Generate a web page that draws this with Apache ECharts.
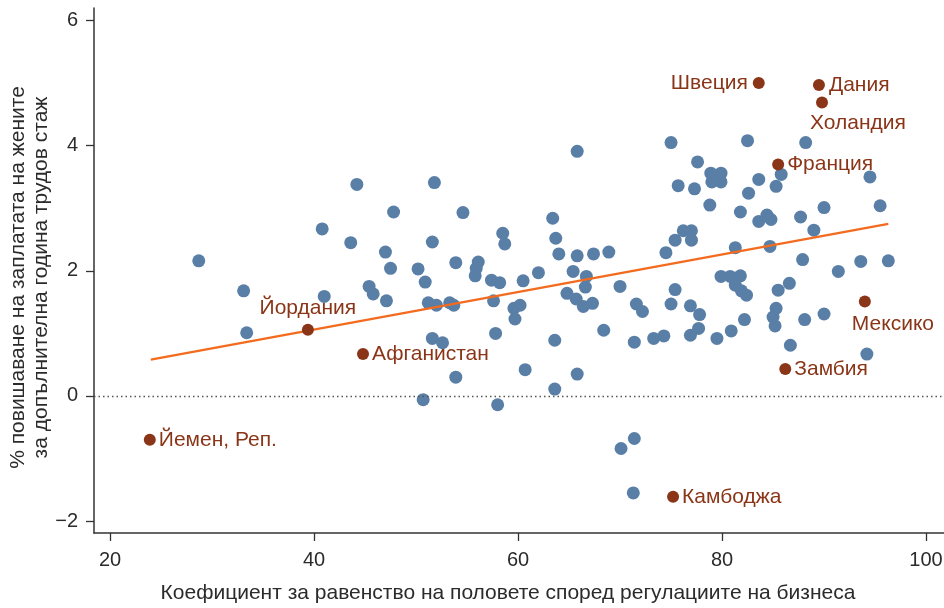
<!DOCTYPE html>
<html>
<head>
<meta charset="utf-8">
<script src="https://cdn.jsdelivr.net/npm/echarts@6/dist/echarts.min.js"></script>
<style>
  html, body { margin: 0; padding: 0; background: #fff; }
  #chart { width: 944px; height: 608px; }
</style>
</head>
<body>
<div id="chart"></div>
<script>
// икономики без надпис: [коефициент, % повишаване]
var otherPoints = [
  [28.7, 2.16], [33.1, 1.68], [33.4, 1.01], [40.8, 2.67], [41.0, 1.59],
  [44.2, 3.38], [43.6, 2.45], [47.0, 2.30], [47.8, 2.94], [47.5, 2.04],
  [45.4, 1.75], [45.8, 1.63], [47.1, 1.52], [51.8, 3.41], [54.6, 2.93],
  [51.6, 2.46], [58.5, 2.60], [58.7, 2.43], [50.2, 2.03], [53.9, 2.13],
  [56.1, 2.14], [55.9, 2.04], [55.8, 1.92], [57.4, 1.85], [58.2, 1.81],
  [50.9, 1.82], [51.2, 1.49], [52.0, 1.45], [53.3, 1.49], [53.7, 1.45],
  [57.6, 1.52], [59.6, 1.40], [60.2, 1.45], [59.7, 1.23], [57.8, 1.00],
  [51.6, 0.92], [52.6, 0.85], [63.6, 0.89], [68.4, 1.05], [53.9, 0.30],
  [60.7, 0.42], [65.8, 0.35], [63.6, 0.11], [50.7, -0.06], [58.0, -0.14],
  [64.8, 1.64], [65.7, 1.55], [66.4, 1.43], [67.3, 1.48], [60.5, 1.84],
  [62.0, 1.97], [63.7, 2.52], [64.0, 2.27], [65.8, 2.24], [67.4, 2.27],
  [68.9, 2.30], [65.4, 1.99], [66.7, 1.91], [66.6, 1.74], [70.0, 1.75],
  [71.6, 1.47], [72.2, 1.35], [71.4, 0.86], [73.3, 0.92], [74.3, 0.96],
  [74.5, 2.29], [75.4, 2.49], [75.4, 1.70], [75.0, 1.47], [71.4, -0.68],
  [70.1, -0.84], [71.3, -1.55], [63.4, 2.84], [65.8, 3.91], [75.0, 4.05],
  [82.5, 4.08], [88.2, 4.05], [77.6, 3.74], [78.9, 3.56], [79.9, 3.56],
  [79.0, 3.42], [79.9, 3.42], [75.7, 3.36], [77.3, 3.31], [78.8, 3.05],
  [83.6, 3.46], [85.8, 3.54], [85.3, 3.35], [94.5, 3.50], [82.6, 3.24],
  [81.8, 2.94], [90.0, 3.01], [95.5, 3.04], [84.4, 2.89], [83.6, 2.79],
  [84.8, 2.82], [87.7, 2.86], [89.0, 2.65], [81.3, 2.37], [84.7, 2.39],
  [87.9, 2.18], [91.4, 1.99], [93.6, 2.15], [96.3, 2.16], [79.9, 1.91],
  [80.8, 1.91], [81.8, 1.92], [81.3, 1.77], [81.9, 1.68], [82.4, 1.61],
  [85.5, 1.69], [86.6, 1.80], [76.2, 2.64], [77.0, 2.64], [77.0, 2.49],
  [76.9, 1.44], [77.8, 1.30], [77.7, 1.08], [76.9, 0.97], [79.5, 0.92],
  [80.9, 1.04], [82.2, 1.22], [85.3, 1.40], [85.0, 1.26], [85.2, 1.12],
  [88.1, 1.22], [90.0, 1.31], [86.7, 0.81], [94.2, 0.67]
];

// икономики с надпис
var labelledNames = ['Швеция', 'Дания', 'Холандия', 'Франция', 'Йордания',
  'Афганистан', 'Йемен, Реп.', 'Камбоджа', 'Замбия', 'Мексико'];
var labelledX = [83.6, 89.5, 89.8, 85.5, 39.4, 44.8, 23.9, 75.2, 86.2, 94.0];
var labelledY = [5.00, 4.97, 4.69, 3.70, 1.06, 0.67, -0.70, -1.61, 0.43, 1.51];

// линия на тренда
var trendX = [24.0, 96.3];
var trendY = [0.58, 2.75];

var xTicks = [20, 40, 60, 80, 100];
var yTicks = [-2, 0, 2, 4, 6];

var FONT = 'Liberation Sans, Arial, sans-serif';
var RED = '#8a3517';

// къде стои надписът спрямо точката
var labelPlace = {
  'Швеция': { position: 'left', distance: 5 },
  'Дания': { position: 'right', distance: 4 },
  'Холандия': { position: [-6, 16] },
  'Франция': { position: 'right', distance: 3 },
  'Йордания': { position: 'top', distance: 5 },
  'Афганистан': { position: 'right', distance: 3 },
  'Йемен, Реп.': { position: 'right', distance: 3 },
  'Камбоджа': { position: 'right', distance: 3 },
  'Замбия': { position: 'right', distance: 3 },
  'Мексико': { position: [-7, 18] }
};

var labelledData = labelledNames.map(function (n, i) {
  return {
    name: n,
    value: [labelledX[i], labelledY[i]],
    label: labelPlace[n]
  };
});

var trendData = trendX.map(function (x, i) { return [x, trendY[i]]; });

var chart = echarts.init(document.getElementById('chart'), null, { renderer: 'canvas' });

var option = {
  backgroundColor: '#fff',
  animation: false,
  textStyle: { fontFamily: FONT },
  grid: {
    left: 94, right: 0, top: 8, bottom: 75,
    containLabel: false,
    outerBoundsMode: 'none'
  },
  xAxis: {
    type: 'value',
    min: 18.43,
    max: 101.76,
    name: 'Коефициент за равенство на половете според регулациите на бизнеса',
    nameLocation: 'middle',
    nameGap: 50,
    nameMoveOverlap: false,
    nameTextStyle: { fontSize: 21, color: '#2b2b2b', fontFamily: FONT, padding: [0, 22, 0, 0] },
    axisLine: { show: true, onZero: false, lineStyle: { color: '#333', width: 1.5 } },
    axisTick: { show: true, customValues: xTicks, length: 8, lineStyle: { color: '#333', width: 1.3 } },
    axisLabel: { customValues: xTicks, margin: 17, fontSize: 20, color: '#2b2b2b', fontFamily: FONT },
    splitLine: { show: false }
  },
  yAxis: {
    type: 'value',
    min: -2.19,
    max: 6.2,
    name: '% повишаване на заплатата на жените\nза допълнителна година трудов стаж',
    nameLocation: 'middle',
    nameGap: 41,
    nameMoveOverlap: false,
    nameRotate: 90,
    nameTextStyle: { fontSize: 21, lineHeight: 23, color: '#2b2b2b', fontFamily: FONT, padding: [0, 14, 0, 0] },
    axisLine: { show: true, onZero: false, lineStyle: { color: '#333', width: 1.5 } },
    axisTick: { show: true, customValues: yTicks, length: 8, lineStyle: { color: '#333', width: 1.3 } },
    axisLabel: {
      customValues: yTicks,
      margin: 16,
      fontSize: 20,
      color: '#2b2b2b',
      fontFamily: FONT,
      formatter: function (v) { return v < 0 ? '\u2212' + Math.abs(v) : String(v); }
    },
    splitLine: { show: false }
  },
  series: [
    {
      name: 'Други',
      type: 'scatter',
      data: otherPoints,
      symbolSize: 13,
      itemStyle: { color: '#5a7fa7', opacity: 1 },
      z: 2
    },
    {
      name: 'Тренд',
      type: 'line',
      data: trendData,
      showSymbol: false,
      lineStyle: { color: '#f36b1e', width: 2.2 },
      z: 3,
      markLine: {
        silent: true,
        symbol: 'none',
        label: { show: false },
        lineStyle: { color: '#555', type: [1.5, 3], width: 1.4 },
        data: [{ yAxis: 0 }]
      }
    },
    {
      name: 'Отбелязани',
      type: 'scatter',
      data: labelledData,
      symbolSize: 12,
      itemStyle: { color: RED, opacity: 1 },
      label: {
        show: true,
        formatter: '{b}',
        fontSize: 21,
        color: RED,
        fontFamily: FONT
      },
      z: 4
    }
  ]
};

chart.setOption(option);
</script>
</body>
</html>
